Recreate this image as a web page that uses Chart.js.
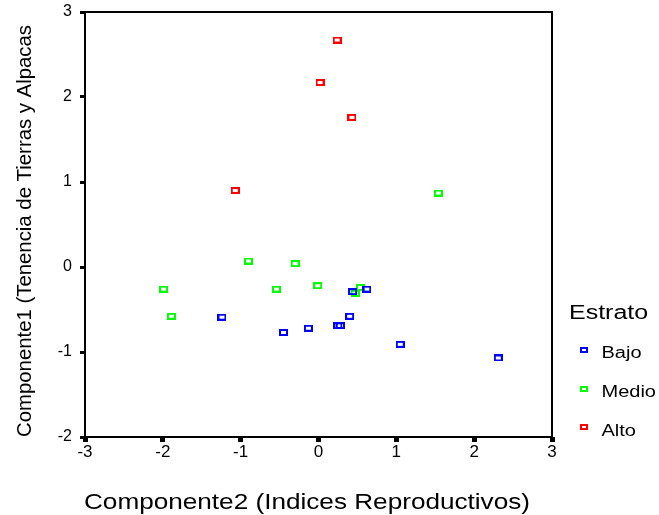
<!DOCTYPE html>
<html>
<head>
<meta charset="utf-8">
<script src="https://cdn.jsdelivr.net/npm/chart.js@4/dist/chart.umd.min.js"></script>
<style>
html,body{margin:0;padding:0;background:#fff;}
#c{display:block;}
</style>
</head>
<body>
<canvas id="c" width="659" height="515"></canvas>
<script>
// ---- data ----
const seriesNames = ["Bajo", "Medio", "Alto"];
const seriesColors = ["#0000ff", "#00ff00", "#ff0000"];
const bajoX  = [0.44, 0.62, -1.24, 0.40, -0.45, -0.13, 0.25, 0.28, 1.05, 2.31];
const bajoY  = [-0.29, -0.26, -0.59, -0.58, -0.77, -0.72, -0.69, -0.69, -0.91, -1.07];
const medioX = [1.54, -0.90, -0.30, -1.99, -0.54, -0.01, 0.54, 0.47, -1.89];
const medioY = [0.87, 0.07, 0.04, -0.26, -0.26, -0.22, -0.24, -0.31, -0.58];
const altoX  = [0.24, 0.02, 0.43, -1.07];
const altoY  = [2.67, 2.17, 1.76, 0.90];
const xTicks = [-3, -2, -1, 0, 1, 2, 3];
const yTicks = [-2, -1, 0, 1, 2, 3];
const xTitle = "Componente2 (Indices Reproductivos)";
const yTitle = "Componente1 (Tenencia de Tierras y Alpacas";
const legendTitle = "Estrato";

const FONT = "'Liberation Sans', Arial, sans-serif";

function pts(xs, ys){ return xs.map((v,i)=>({x:v, y:ys[i]})); }
function marker(color, w, h, lw){
  const c = document.createElement('canvas');
  c.width = w; c.height = h;
  const g = c.getContext('2d');
  g.fillStyle = color; g.fillRect(0,0,w,h);
  g.clearRect(lw, lw, w-2*lw, h-2*lw);
  return c;
}
const dataX = [bajoX, medioX, altoX];
const dataY = [bajoY, medioY, altoY];

const datasets = seriesNames.map((name,i)=>({
  label: name,
  data: pts(dataX[i], dataY[i]),
  pointStyle: marker(seriesColors[i], 9, 7, 2),
  borderColor: seriesColors[i],
  backgroundColor: seriesColors[i],
  showLine: false
}));

function stretchedText(ctx, text, x, y, fontPx, scaleX, align){
  ctx.save();
  ctx.font = fontPx + "px " + FONT;
  const w = ctx.measureText(text).width * scaleX;
  let sx = x;
  if (align === 'center') sx = x - w/2;
  ctx.translate(sx, y);
  ctx.scale(scaleX, 1);
  ctx.textAlign = 'left';
  ctx.textBaseline = 'alphabetic';
  ctx.fillStyle = '#000';
  ctx.fillText(text, 0, 0);
  ctx.restore();
}

const decor = {
  id: 'decor',
  beforeDatasetsDraw(chart){
    const ctx = chart.ctx, a = chart.chartArea;
    ctx.save();
    ctx.strokeStyle = '#000';
    ctx.lineWidth = 2;
    ctx.strokeRect(a.left, a.top, a.right - a.left, a.bottom - a.top);
    ctx.restore();
  },
  afterDraw(chart){
    const ctx = chart.ctx;
    // x title
    ctx.save();
    ctx.font = "22px " + FONT;
    let w = ctx.measureText(xTitle).width;
    ctx.restore();
    stretchedText(ctx, xTitle, 307, 508.5, 22, 446 / w, 'center');
    // y title (rotated)
    ctx.save();
    ctx.font = "20px " + FONT;
    w = ctx.measureText(yTitle).width;
    ctx.translate(30.5, 231);
    ctx.rotate(-Math.PI/2);
    ctx.scale(412 / w, 1);
    ctx.textAlign = 'center';
    ctx.textBaseline = 'alphabetic';
    ctx.fillStyle = '#000';
    ctx.fillText(yTitle, 0, 0);
    ctx.restore();
    // legend
    stretchedText(ctx, legendTitle, 569, 318.5, 20, 1.25, 'left');
    const ys = [350, 388.6, 427.2];
    chart.data.datasets.forEach((ds, i) => {
      const m = marker(ds.borderColor, 8, 6, 2);
      ctx.drawImage(m, 580, Math.round(ys[i] - 3));
      stretchedText(ctx, ds.label, 601.5, ys[i] + 8.3, 16, 1.25, 'left');
    });
  }
};

new Chart(document.getElementById('c'), {
  type: 'scatter',
  data: { datasets },
  options: {
    responsive: false,
    devicePixelRatio: 1,
    animation: false,
    layout: { padding: { top: 12, right: 107, bottom: 0, left: 0 } },
    plugins: { legend: { display: false }, tooltip: { enabled: false } },
    elements: { point: { radius: 4, hoverRadius: 4 } },
    scales: {
      x: {
        type: 'linear', position: 'bottom', min: -3, max: 3,
        afterBuildTicks: s => { s.ticks = xTicks.map(v => ({value: v})); },
        ticks: { color: '#000', font: { family: FONT, size: 17 }, padding: 0, maxRotation: 0 },
        grid: { display: true, drawOnChartArea: false, drawTicks: true, tickLength: 5, tickWidth: 5, tickColor: '#000' },
        border: { display: false },
        afterFit: s => { s.height = 78; s.paddingLeft = 0; s.paddingRight = 0; }
      },
      y: {
        type: 'linear', position: 'left', min: -2, max: 3,
        afterBuildTicks: s => { s.ticks = yTicks.map(v => ({value: v})); },
        ticks: { color: '#000', font: { family: FONT, size: 16 }, padding: 8 },
        grid: { display: true, drawOnChartArea: false, drawTicks: true, tickLength: 5, tickWidth: 3, tickColor: '#000' },
        border: { display: false },
        afterFit: s => { s.width = 85; s.paddingTop = 0; s.paddingBottom = 0; }
      }
    }
  },
  plugins: [decor]
});
</script>
</body>
</html>
